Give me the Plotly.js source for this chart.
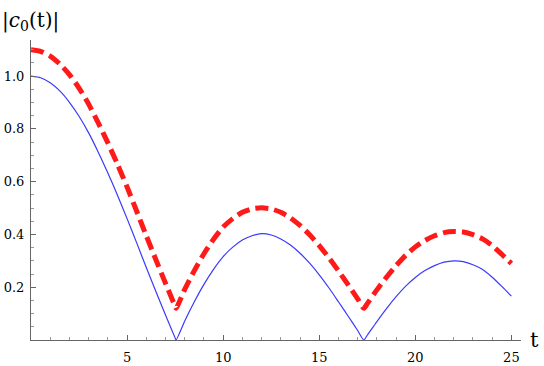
<!DOCTYPE html>
<html>
<head>
<meta charset="utf-8">
<script src="https://cdn.plot.ly/plotly-3.0.1.min.js"></script>
<style>
  html, body { margin: 0; padding: 0; background: #fff; }
  #plot1 { width: 544px; height: 366px; }
</style>
</head>
<body>
<div id="plot1"></div>
<script>
// values
var t_vals = [0, 0.5, 1, 1.5, 2, 2.5, 3, 3.5, 4, 4.5, 5, 5.5, 6, 6.5, 7, 7.5, 7.55, 8, 8.5, 9, 9.5,
  10, 10.5, 11, 11.5, 12, 12.5, 13, 13.5, 14, 14.5, 15, 15.5, 16, 16.5, 17, 17.32, 17.5, 18, 18.5,
  19, 19.5, 20, 20.5, 21, 21.5, 22, 22.5, 23, 23.5, 24, 24.5, 25];
var c0_exact = [1.000, 0.994, 0.975, 0.944, 0.901, 0.848, 0.785, 0.712, 0.633, 0.549, 0.460, 0.368,
  0.275, 0.184, 0.095, 0.008, 0.000, 0.072, 0.145, 0.211, 0.268, 0.316, 0.352, 0.379, 0.395, 0.403,
  0.398, 0.383, 0.360, 0.329, 0.291, 0.247, 0.198, 0.145, 0.091, 0.036, 0.000, 0.018, 0.070, 0.119,
  0.164, 0.204, 0.237, 0.263, 0.282, 0.295, 0.300, 0.297, 0.285, 0.267, 0.238, 0.203, 0.166];
var c0_approx = [1.100, 1.094, 1.076, 1.046, 1.006, 0.955, 0.894, 0.823, 0.747, 0.666, 0.580, 0.488,
  0.395, 0.304, 0.215, 0.128, 0.120, 0.192, 0.263, 0.327, 0.382, 0.428, 0.460, 0.484, 0.497, 0.501,
  0.497, 0.484, 0.463, 0.434, 0.399, 0.358, 0.312, 0.262, 0.210, 0.156, 0.120, 0.138, 0.190, 0.238,
  0.282, 0.321, 0.353, 0.377, 0.395, 0.407, 0.411, 0.409, 0.399, 0.383, 0.358, 0.325, 0.290];
var x_ticks = [5, 10, 15, 20, 25];
var y_ticks = [0.2, 0.4, 0.6, 0.8, 1.0];

var axis_col = '#666666';
var serif = 'DejaVu Serif';

var x_minor = [];
for (var i = 1; i <= 25; i++) { if (i % 5 != 0) x_minor.push(i); }
var y_minor = [];
for (var k = 1; k <= 22; k++) { if (k % 4 != 0) y_minor.push(k * 0.05); }

var data = [
  {
    x: t_vals, y: c0_approx, mode: 'lines', line: { color: '#ff1a1a', width: 5, dash: '13px,6px', shape: 'spline', smoothing: 0.6 },
    hoverinfo: 'skip'
  },
  {
    x: t_vals, y: c0_exact, mode: 'lines', line: { color: '#3a3aff', width: 1.2, shape: 'spline', smoothing: 0.6 },
    hoverinfo: 'skip'
  }
];

var layout = {
  width: 544, height: 366,
  margin: { l: 31, r: 23, t: 40, b: 26 },
  paper_bgcolor: '#fff', plot_bgcolor: '#fff',
  showlegend: false,
  font: { family: serif, size: 13, color: '#000' },
  xaxis: {
    range: [0, 25.5],
    tickmode: 'array', tickvals: x_ticks,
    ticks: 'inside', ticklen: 5, tickwidth: 1, tickcolor: axis_col,
    minor: { tickmode: 'array', tickvals: x_minor, ticks: 'inside', ticklen: 3, tickcolor: '#999999' },
    showline: true, linecolor: axis_col, linewidth: 1,
    showgrid: false, zeroline: false,
    ticklabelstandoff: 5,
    tickfont: { family: serif, size: 13, color: '#000' }
  },
  yaxis: {
    range: [0, 1.137],
    tickmode: 'array', tickvals: y_ticks, tickformat: '.1f',
    ticks: 'inside', ticklen: 5, tickwidth: 1, tickcolor: axis_col,
    minor: { tickmode: 'array', tickvals: y_minor, ticks: 'inside', ticklen: 3, tickcolor: '#999999' },
    showline: true, linecolor: axis_col, linewidth: 1,
    showgrid: false, zeroline: false,
    ticklabelstandoff: 3,
    tickfont: { family: serif, size: 13, color: '#000' }
  },
  annotations: [
    {
      text: '|<i>c</i><sub>0</sub>(t)|', xref: 'paper', yref: 'paper',
      x: -0.063, y: 1.0, xanchor: 'left', yanchor: 'bottom', yshift: 4,
      showarrow: false, font: { family: serif, size: 20, color: '#000' }
    },
    {
      text: 't', xref: 'paper', yref: 'paper',
      x: 1.0, y: 0, xanchor: 'left', yanchor: 'middle', xshift: 7,
      showarrow: false, font: { family: serif, size: 21, color: '#000' }
    }
  ]
};

Plotly.newPlot('plot1', data, layout, { displayModeBar: false, staticPlot: true });
</script>
</body>
</html>
